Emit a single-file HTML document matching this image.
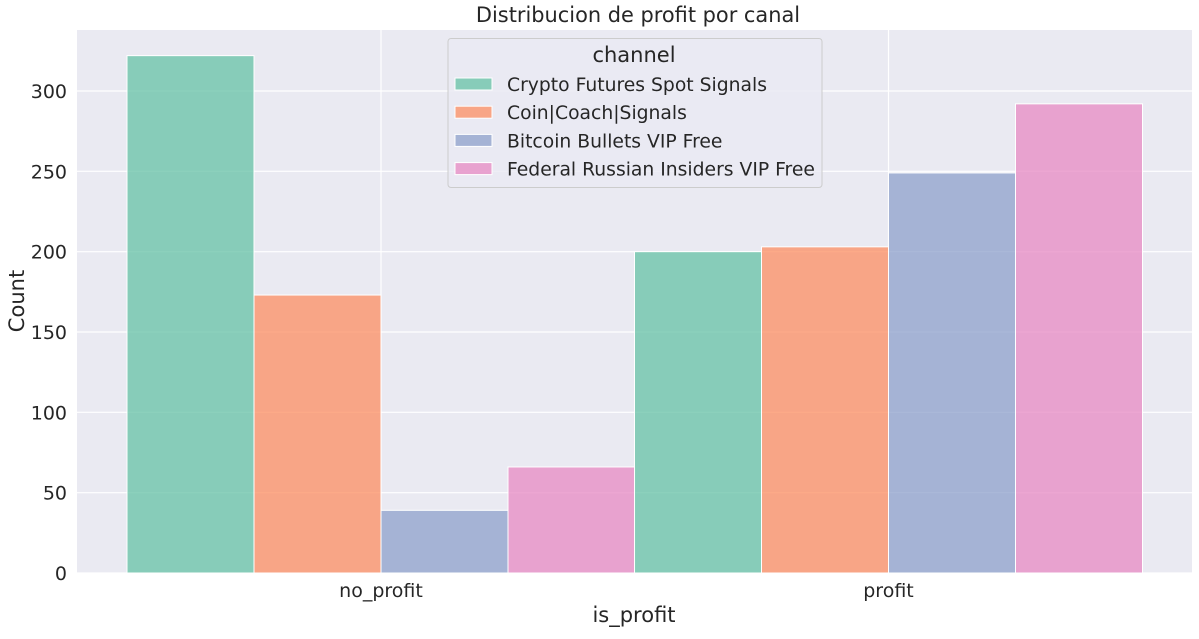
<!DOCTYPE html>
<html><head><meta charset="utf-8"><style>
body{margin:0;background:#fff;font-family:"Liberation Sans","DejaVu Sans",sans-serif}
svg text{font-family:"DejaVu Sans","Liberation Sans",sans-serif;fill:#262626}
</style></head><body>
<svg id="c" width="1199" height="634"></svg>
<script>
const categories=["no_profit","profit"];
const channels=["Crypto Futures Spot Signals","Coin|Coach|Signals","Bitcoin Bullets VIP Free","Federal Russian Insiders VIP Free"];
const noProfit=[322,173,39,66];
const profit=[200,203,249,292];
const yTicks=[0,50,100,150,200,250,300];
const colors=["#66c2a5","#fc8d62","#8da0cb","#e78ac3"];
const L=77,R=1192,T=30,B=573;
const y=v=>B-v*(B-91)/300;
const x=i=>127+i*507.5;
const NS="http://www.w3.org/2000/svg";
const svg=document.getElementById('c');
function mk(t,a,txt){const e=document.createElementNS(NS,t);for(const k in a)e.setAttribute(k,a[k]);if(txt!=null)e.textContent=txt;svg.appendChild(e);return e;}
let e=mk('rect',{x:L,y:T,width:R-L,height:B-T,fill:'#eaeaf2'});


yTicks.forEach(v=>{
 let g=mk('line',{x1:L,x2:R,y1:y(v),y2:y(v),stroke:'#fff','stroke-width':1.2});
 
 
 let t=mk('text',{x:L-10,y:y(v)+7,'text-anchor':'end','font-size':19},v);
 
 
});
categories.forEach((c,i)=>{
 let cx=x(i)+254;
 let g=mk('line',{x1:cx,x2:cx,y1:T,y2:B,stroke:'#fff','stroke-width':1.2});
 
 
 let t=mk('text',{x:cx,y:597,'text-anchor':'middle','font-size':19},c);
 
 
});
const series=[noProfit,profit];
series.forEach((vals,i)=>{
 vals.forEach((v,j)=>{
  let b=mk('rect',{x:x(i)+j*127,y:y(v),width:127,height:B-y(v),fill:colors[j],'fill-opacity':0.75,stroke:'#fff','stroke-width':1});
  
  
 });
});
e=mk('text',{x:638,y:22,'text-anchor':'middle','font-size':20.9},'Distribucion de profit por canal');


e=mk('text',{x:634,y:622,'text-anchor':'middle','font-size':21},'is_profit');


e=mk('text',{x:24,y:301,'text-anchor':'middle','font-size':21,transform:'rotate(-90 24 301)'},'Count');


e=mk('rect',{x:448,y:38.5,width:374,height:149,rx:3,fill:'#eaeaf2','fill-opacity':0.8,stroke:'#ccc'});


e=mk('text',{x:634,y:62,'text-anchor':'middle','font-size':21},'channel');


channels.forEach((n,j)=>{
 let yy=78+j*28.2;
 let p=mk('rect',{x:455,y:yy,width:37,height:12,fill:colors[j],'fill-opacity':0.75,stroke:'#fff'});
 
 
 let t=mk('text',{x:507,y:yy+13,'font-size':18.75},n);
 
 
});
</script>
</body></html>
